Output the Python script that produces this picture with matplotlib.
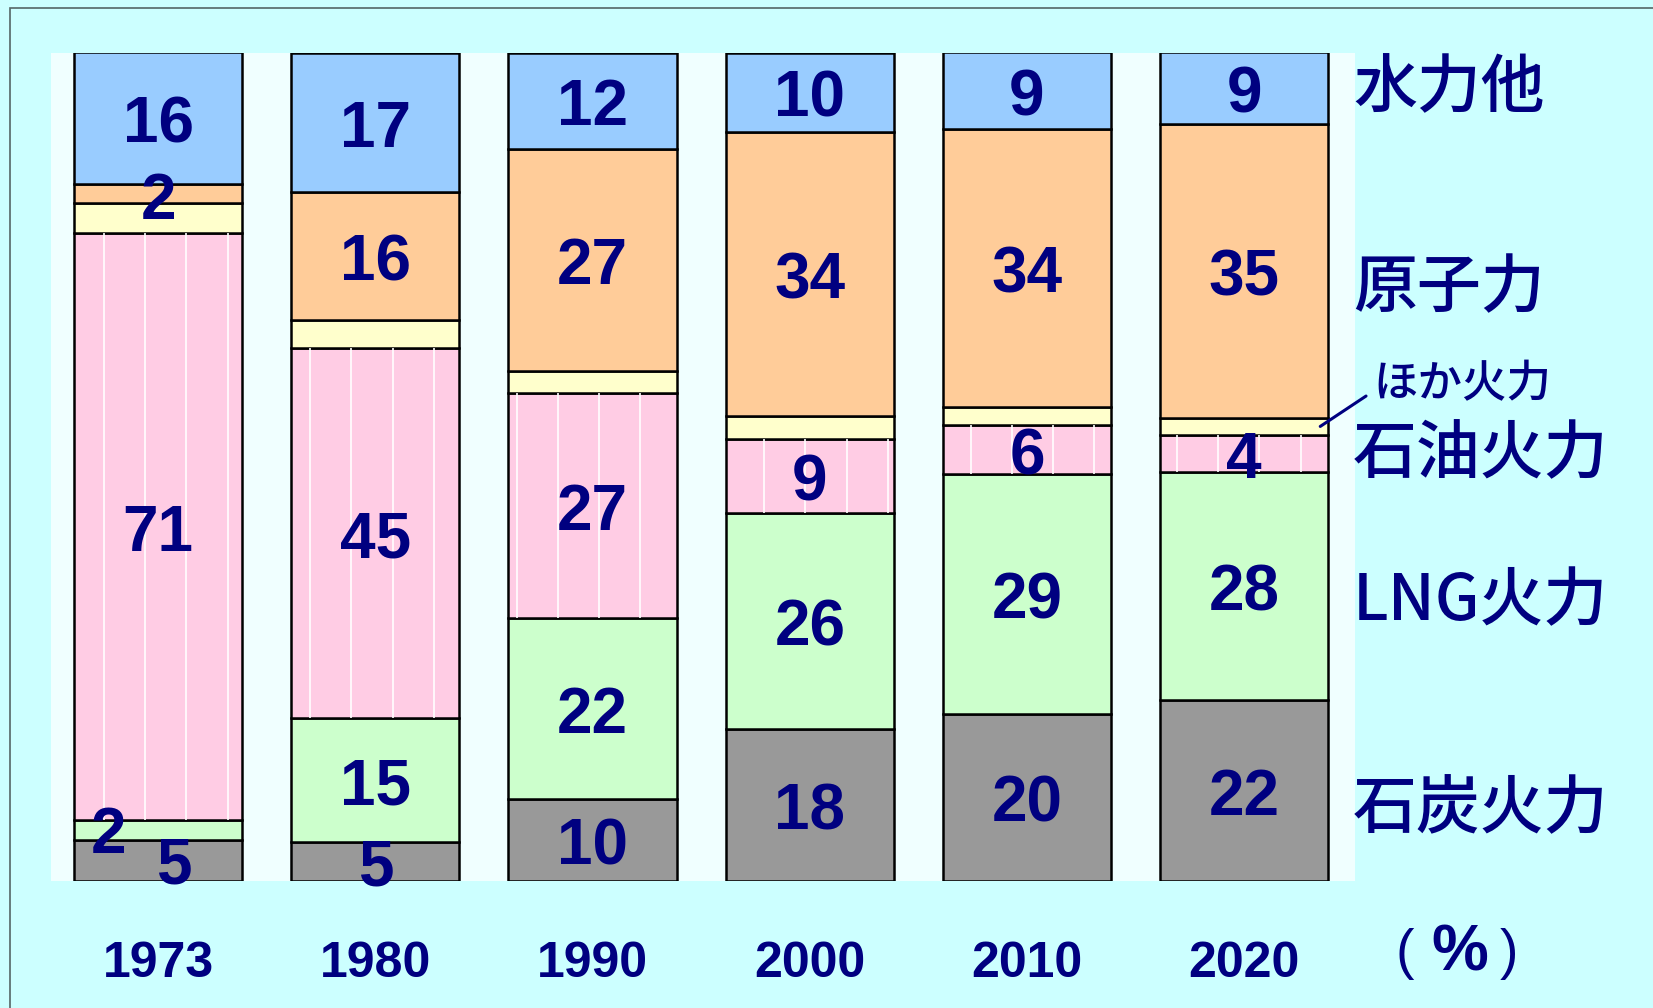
import matplotlib.pyplot as plt
import numpy as np
from matplotlib.patches import Rectangle

plt.rcParams['font.family'] = ['Liberation Sans', 'DejaVu Sans']
jp = ['Noto Sans CJK JP', 'DejaVu Sans']

years = ['1973', '1980', '1990', '2000', '2010', '2020']
# shares in %, bottom to top
coal = [5.0, 4.7, 9.9, 18.3, 20.2, 21.8]
lng = [2.4, 15.0, 21.9, 26.2, 28.9, 27.6]
oil = [70.9, 44.7, 27.1, 8.9, 6.0, 4.5]
other = [3.6, 3.3, 2.7, 2.7, 2.2, 2.0]   # ほか火力, not labelled
nuclear = [2.3, 15.5, 26.8, 34.4, 33.5, 35.5]
hydro = [15.9, 16.8, 11.6, 9.5, 9.3, 8.7]

# printed labels
coal_lbl = [5, 5, 10, 18, 20, 22]
lng_lbl = [2, 15, 22, 26, 29, 28]
oil_lbl = [71, 45, 27, 9, 6, 4]
nuclear_lbl = [2, 16, 27, 34, 34, 35]
hydro_lbl = [16, 17, 12, 10, 9, 9]

series = [coal, lng, oil, other, nuclear, hydro]
labels = [coal_lbl, lng_lbl, oil_lbl, None, nuclear_lbl, hydro_lbl]
colors = ['#999999', '#ccffcc', '#ffcce4', '#ffffcc', '#ffcc99', '#99ccff']
names = ['石炭火力', 'LNG火力', '石油火力', 'ほか火力', '原子力', '水力他']

navy = '#000080'
shares = np.array(series, dtype=float)

fig = plt.figure(figsize=(16.53, 10.08), dpi=100, facecolor='#ccffff')
fig.patches.append(Rectangle((10 / 1653, -0.05), 1.2, 1.05 - 8 / 1008,
                             transform=fig.transFigure, fill=False,
                             edgecolor='#556666', lw=1.2))
ax = fig.add_axes([51 / 1653, 1 - 881 / 1008, (1355 - 51) / 1653, (881 - 53) / 1008])
ax.set_facecolor('#f0ffff')
for sp in ax.spines.values():
    sp.set_visible(False)
ax.set_xticks([])
ax.set_yticks([])

x = np.arange(len(years))
w = 0.774
bottom = np.zeros(len(years))
bars = []
for s, c in zip(shares, colors):
    b = ax.bar(x, s, w, bottom=bottom, color=c, edgecolor='black', linewidth=1.8, zorder=2)
    bars.append(b)
    bottom += s

# white texture lines inside the oil segments
for patch in bars[2]:
    for gx in np.arange(-0.44, 5.6, 0.19):
        ln = ax.axvline(gx, color='white', lw=1.2, zorder=2.5)
        ln.set_clip_path(patch)

# value labels (small offsets for the crowded 1973 bottom)
offsets = {(1, 0): (-0.23, 0.1), (0, 0): (0.07, 0.1), (4, 0): (0, -0.2)}
bottom = np.zeros(len(years))
for k, s in enumerate(shares):
    if labels[k] is not None:
        for i in range(len(years)):
            dx, dy = offsets.get((k, i), (0, 0))
            ax.text(x[i] + dx, bottom[i] + s[i] / 2 + dy - 0.9, str(labels[k][i]),
                    ha='center', va='center', fontsize=46, fontweight='bold',
                    color=navy, zorder=5)
    bottom += s

ax.set_xlim(-0.493, 5.51)
ax.set_ylim(0, 100)

for i, yr in enumerate(years):
    fig.text(ax.transData.transform((x[i], 0))[0] / fig.bbox.width, 0.044, yr,
             ha='center', va='center', fontsize=36, fontweight='bold', color=navy)

# category names on the right
big = [(names[5], 0.912), (names[4], 0.714), (names[2], 0.549),
       (names[1], 0.403), (names[0], 0.197)]
for t, yy in big:
    fig.text(0.8185, yy, t, ha='left', va='center', fontsize=46,
             color=navy, family=jp, fontweight='medium')
fig.text(0.831, 0.618, names[3], ha='left', va='center', fontsize=32,
         color=navy, family=jp, fontweight='medium')
ax.annotate('', xy=(5.35, shares[:3, 5].sum() + shares[3, 5] / 2), xycoords='data',
            xytext=(0.8264, 0.6071), textcoords='figure fraction',
            arrowprops=dict(arrowstyle='-', color=navy, lw=2.2, shrinkA=0, shrinkB=0))

fig.text(0.850, 0.054, '(', ha='center', va='center', fontsize=40, color=navy)
fig.text(0.883, 0.054, '%', ha='center', va='center', fontsize=46,
         fontweight='bold', color=navy)
fig.text(0.913, 0.054, ')', ha='center', va='center', fontsize=40, color=navy)

fig.savefig('out.png', dpi=100, facecolor=fig.get_facecolor())
